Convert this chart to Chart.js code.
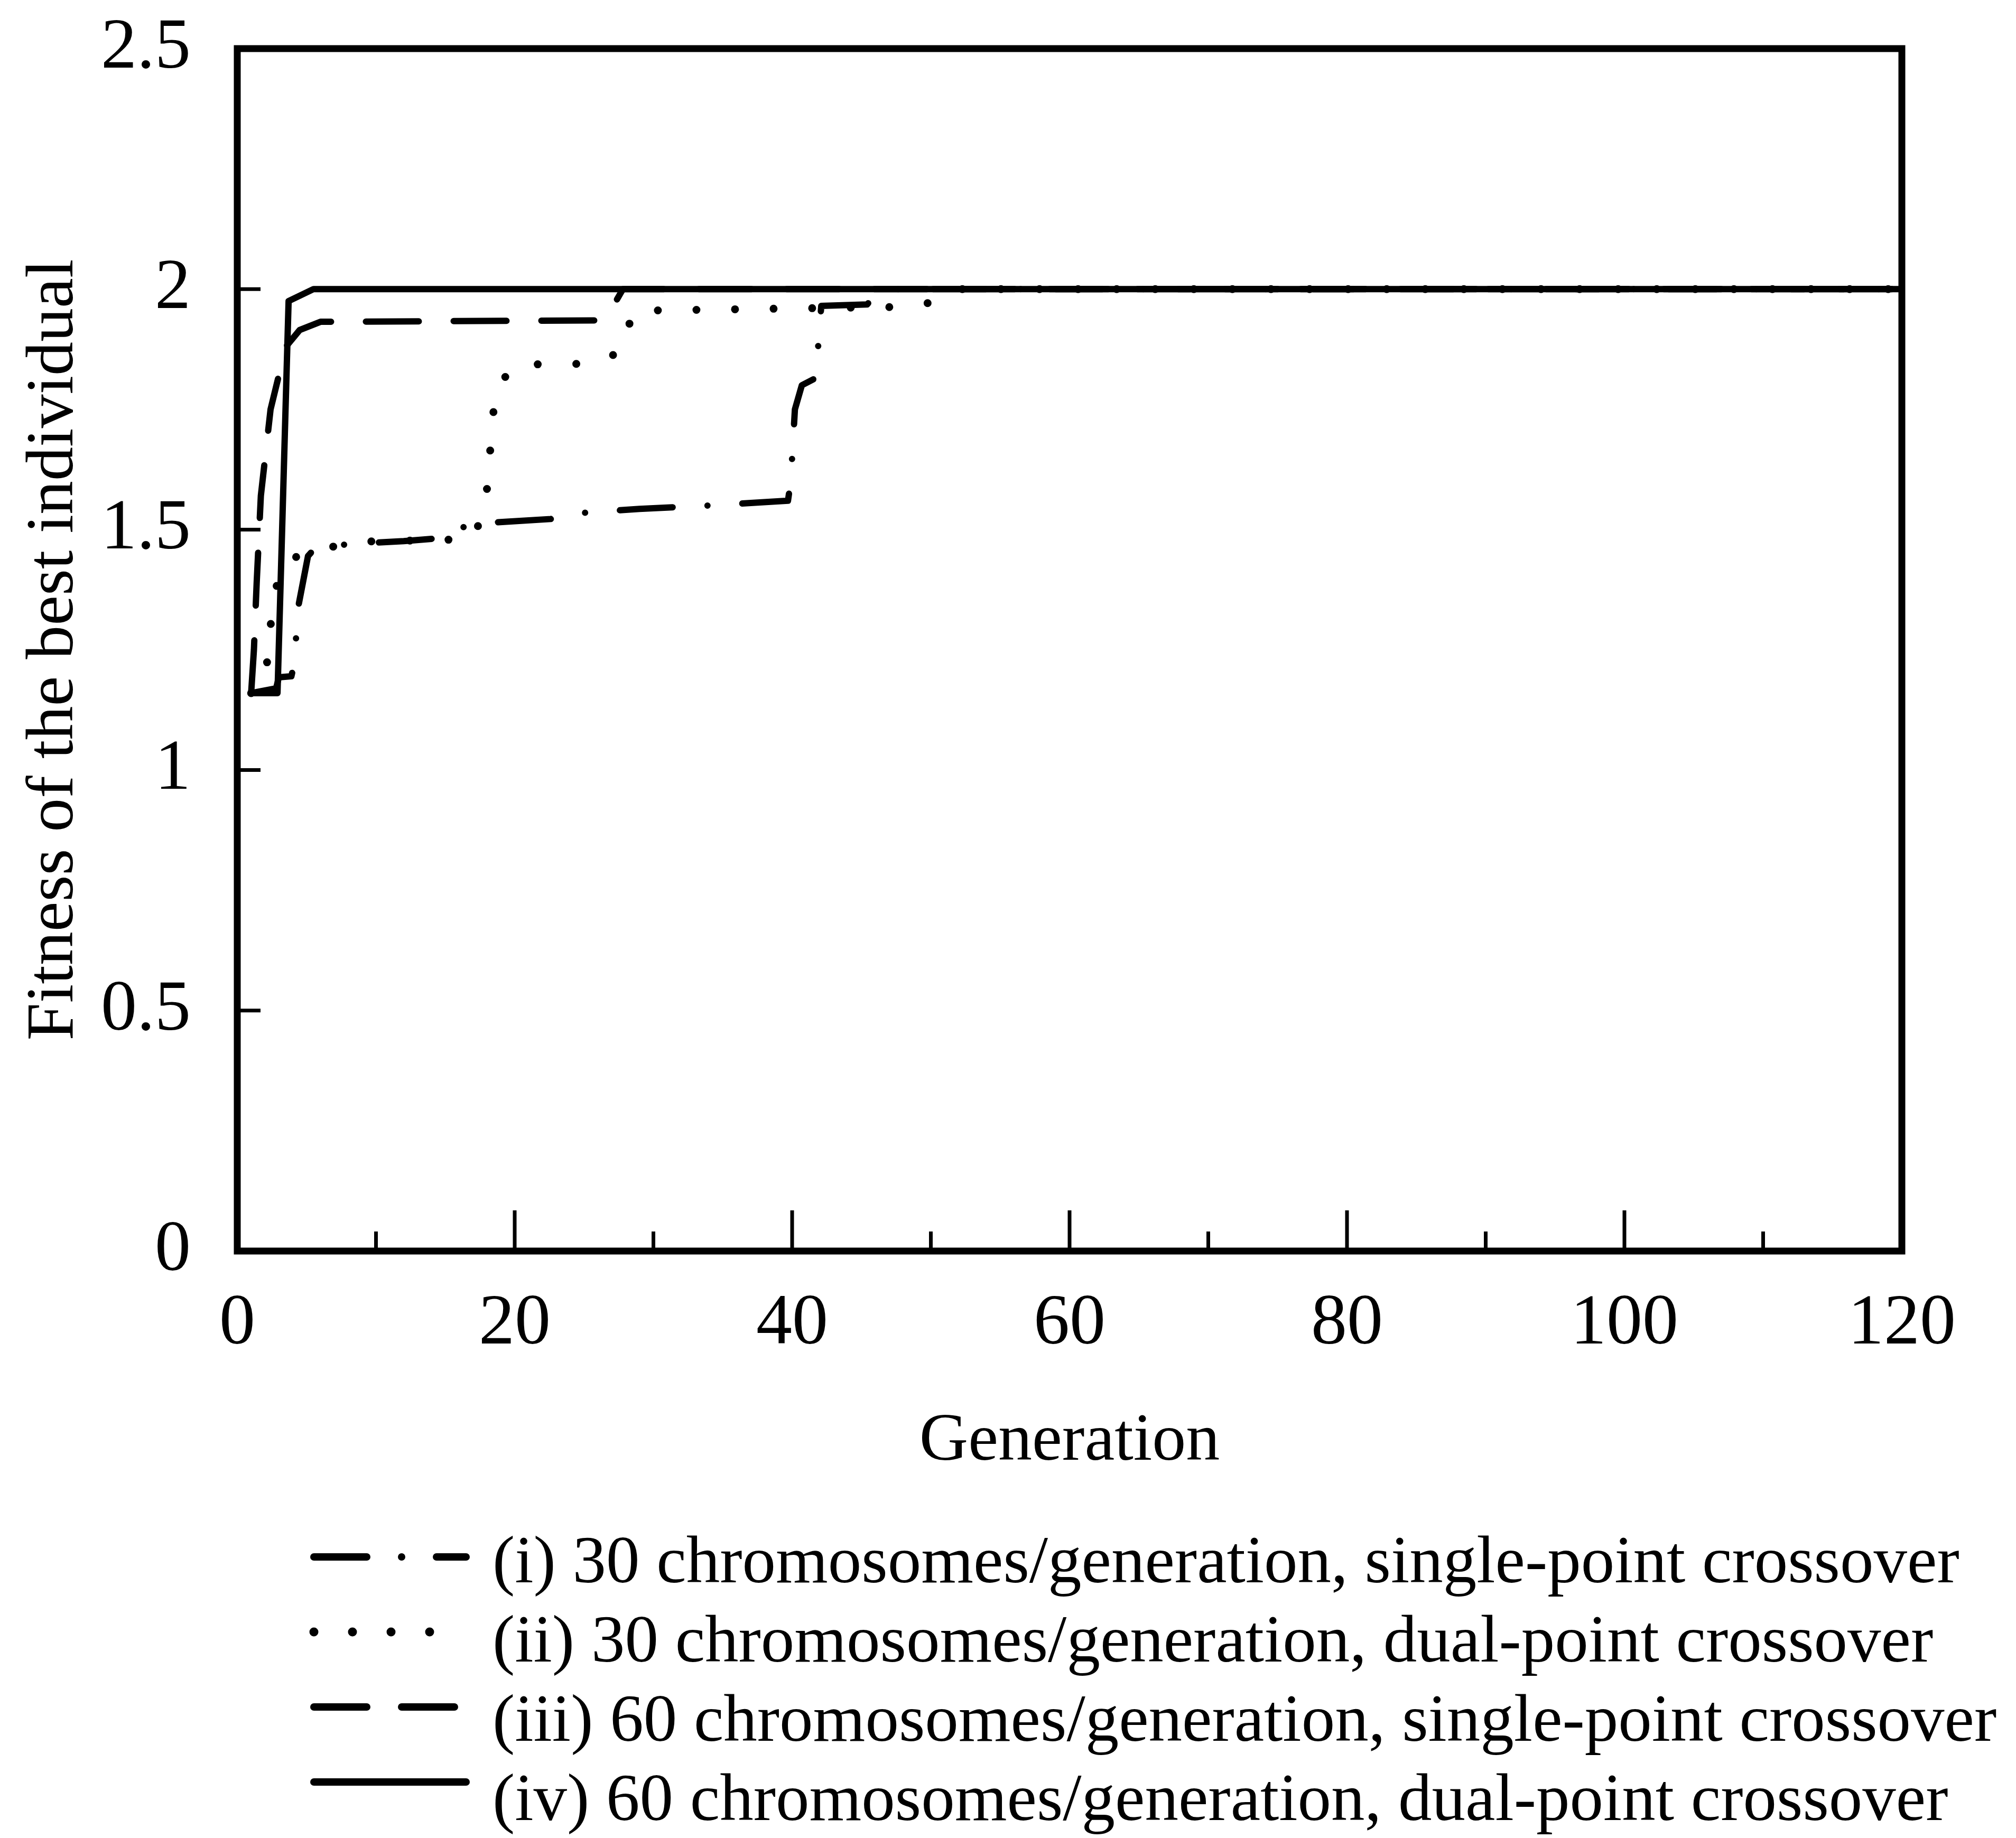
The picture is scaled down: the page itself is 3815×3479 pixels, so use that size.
<!DOCTYPE html>
<html>
<head>
<meta charset="utf-8">
<title>Fitness of the best individual</title>
<script src="https://cdn.jsdelivr.net/npm/chart.js@4.4.0/dist/chart.umd.min.js"></script>
<style>
  html, body { margin: 0; padding: 0; background: #fff; }
</style>
</head>
<body>
<canvas id="fitness-chart" width="3815" height="3479"></canvas>
<script>
// Values (generation, fitness of the best individual)
const gensI = [1, 2.8, 3.0, 3.9, 4.1, 4.4, 5.1, 5.5, 8, 12, 15, 16.3, 18.6, 22.6, 25, 29, 34, 39.7, 39.9, 40.2, 40.7, 41.7, 42.1, 45.4, 46.1, 47, 120];
const fitI = [1.16, 1.17, 1.193, 1.195, 1.22, 1.34, 1.445, 1.458, 1.47, 1.476, 1.483, 1.505, 1.515, 1.522, 1.535, 1.543, 1.55, 1.56, 1.6, 1.75, 1.8, 1.815, 1.965, 1.968, 1.99, 2.0, 2.0];

const gensII = [1, 1.8, 2.1, 2.4, 2.7, 3.4, 6, 9, 17, 17.9, 18.6, 20, 25.7, 27.8, 28.5, 48, 50.7, 52, 120];
const fitII = [1.16, 1.17, 1.21, 1.3, 1.37, 1.435, 1.46, 1.475, 1.48, 1.55, 1.79, 1.843, 1.845, 1.872, 1.955, 1.963, 1.975, 2.0, 2.0];

const gensIII = [1, 1.2, 1.4, 1.7, 2.4, 3.5, 4.5, 6, 26.5, 27.8, 120];
const fitIII = [1.16, 1.25, 1.39, 1.57, 1.75, 1.88, 1.915, 1.932, 1.935, 2.0, 2.0];

const gensIV = [1, 2.9, 3.7, 5.5, 120];
const fitIV = [1.16, 1.16, 1.975, 2.0, 2.0];

const seriesLabels = [
  "(i) 30 chromosomes/generation, single-point crossover",
  "(ii) 30 chromosomes/generation, dual-point crossover",
  "(iii) 60 chromosomes/generation, single-point crossover",
  "(iv) 60 chromosomes/generation, dual-point crossover",
];

// Tick values and their labels
const xTickValues = [0, 20, 40, 60, 80, 100, 120];
const xTickLabels = ["0", "20", "40", "60", "80", "100", "120"];
const xMinorTicks = [10, 30, 50, 70, 90, 110];
const yTickValues = [0, 0.5, 1, 1.5, 2, 2.5];
const yTickLabels = ["0", "0.5", "1", "1.5", "2", "2.5"];

const FONT = "'Liberation Serif', 'Times New Roman', serif";

function toPoints(xs, ys) {
  return xs.map((x, i) => ({ x: x, y: ys[i] }));
}

// Frame and inward tick marks, drawn from the chart's own scales
const framePlugin = {
  id: "frame",
  afterDatasetsDraw(chart) {
    const { ctx, chartArea: a } = chart;
    const xs = chart.scales.x;
    const ys = chart.scales.y;
    ctx.save();
    ctx.strokeStyle = "#000";
    ctx.lineCap = "butt";
    ctx.lineWidth = 7;
    ctx.beginPath();
    xTickValues.slice(1, -1).forEach((v) => {
      const px = xs.getPixelForValue(v);
      ctx.moveTo(px, a.bottom);
      ctx.lineTo(px, a.bottom - 77);
    });
    xMinorTicks.forEach((v) => {
      const px = xs.getPixelForValue(v);
      ctx.moveTo(px, a.bottom);
      ctx.lineTo(px, a.bottom - 37);
    });
    yTickValues.slice(1, -1).forEach((v) => {
      const py = ys.getPixelForValue(v);
      ctx.moveTo(a.left, py);
      ctx.lineTo(a.left + 44, py);
    });
    ctx.stroke();
    ctx.lineWidth = 13;
    ctx.strokeRect(a.left, a.top, a.right - a.left, a.bottom - a.top);
    ctx.restore();
  },
};

// Legend stacked under the x-axis title
const legendPlugin = {
  id: "stackLegend",
  afterDraw(chart) {
    const { ctx } = chart;
    const base = chart.chartArea.bottom;
    ctx.save();
    ctx.fillStyle = "#000";
    ctx.strokeStyle = "#000";
    ctx.font = "127px " + FONT;
    ctx.textBaseline = "middle";
    ctx.textAlign = "left";
    chart.data.datasets.forEach((ds, i) => {
      const ly = base + 579 + i * 142;
      ctx.lineWidth = ds.borderWidth + 2;
      ctx.lineCap = "round";
      ctx.setLineDash(ds.borderDash || []);
      ctx.beginPath();
      ctx.moveTo(594, ly);
      ctx.lineTo(882, ly);
      ctx.stroke();
      ctx.setLineDash([]);
      ctx.fillText(ds.label, 932, base + 594 + i * 150);
    });
    ctx.restore();
  },
};

function lineSet(label, xs, ys, width, dash) {
  return {
    label: label,
    data: toPoints(xs, ys),
    borderColor: "#000",
    borderWidth: width,
    borderDash: dash,
    borderCapStyle: "round",
    borderJoinStyle: "round",
    pointRadius: 0,
    fill: false,
    tension: 0,
  };
}

const ctx = document.getElementById("fitness-chart").getContext("2d");
const chart = new Chart(ctx, {
  type: "line",
  data: {
    datasets: [
      lineSet(seriesLabels[0], gensI, fitI, 12, [100, 66, 0, 66]),
      lineSet(seriesLabels[1], gensII, fitII, 15, [0, 73]),
      lineSet(seriesLabels[2], gensIII, fitIII, 12, [100, 66]),
      lineSet(seriesLabels[3], gensIV, fitIV, 12, []),
    ],
  },
  options: {
    responsive: false,
    animation: false,
    devicePixelRatio: 1,
    layout: { padding: { left: 0, right: 216, top: 92, bottom: 651 } },
    plugins: {
      legend: { display: false },
      tooltip: { enabled: false },
    },
    scales: {
      x: {
        type: "linear",
        min: 0,
        max: 120,
        afterBuildTicks: (s) => { s.ticks = xTickValues.map((v) => ({ value: v })); },
        afterFit: (s) => { s.height = 460; },
        grid: { display: false, drawTicks: false },
        border: { display: false },
        ticks: {
          color: "#000",
          padding: 58,
          maxRotation: 0,
          font: { family: FONT, size: 136 },
          callback: (v) => xTickLabels[xTickValues.indexOf(v)],
        },
        title: {
          display: true,
          text: "Generation",
          color: "#000",
          font: { family: FONT, size: 128 },
          padding: { top: 0, bottom: 22 },
        },
      },
      y: {
        type: "linear",
        min: 0,
        max: 2.5,
        afterBuildTicks: (s) => { s.ticks = yTickValues.map((v) => ({ value: v })); },
        afterFit: (s) => {
          s.width = 449;
          s.paddingTop = 0;
          s.paddingBottom = 0;
        },
        grid: { display: false, drawTicks: false },
        border: { display: false },
        ticks: {
          color: "#000",
          padding: 88,
          font: { family: FONT, size: 136 },
          callback: (v) => yTickLabels[yTickValues.indexOf(v)],
        },
        title: {
          display: true,
          text: "Fitness of the best individual",
          color: "#000",
          font: { family: FONT, size: 128 },
          padding: { top: 27, bottom: 0 },
        },
      },
    },
  },
  plugins: [framePlugin, legendPlugin],
});
</script>
</body>
</html>
